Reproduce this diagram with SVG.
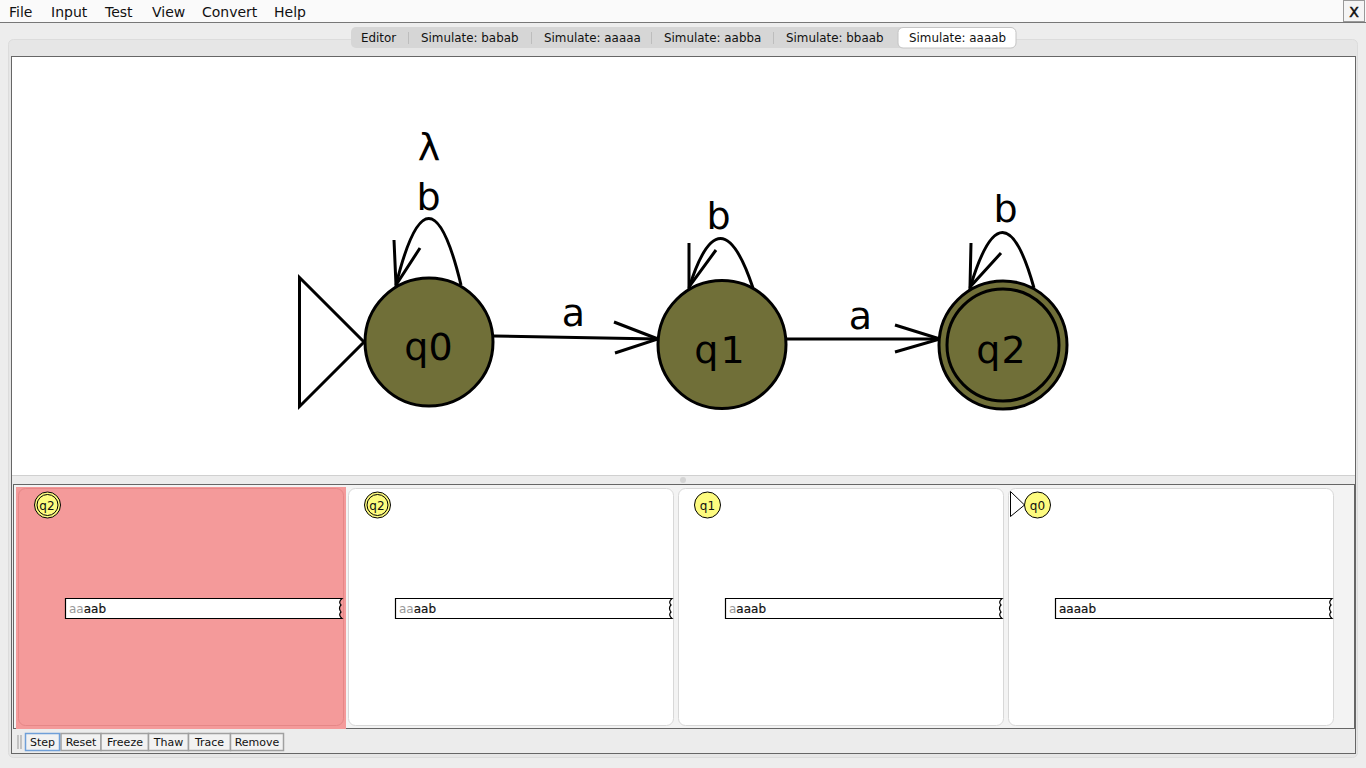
<svg xmlns="http://www.w3.org/2000/svg" width="1366" height="768" viewBox="0 0 1366 768">
<style>
text{font-family:"DejaVu Sans","Liberation Sans",sans-serif;fill:#111}
.menu{font-size:14px}
.tab{font-size:11.9px}
.btn rect{fill:#f2f2f2;stroke:#a0a0a0;stroke-width:1.5}
.btn text{font-size:11px;text-anchor:middle}
.st{fill:#706f38;stroke:#000;stroke-width:3}
.big{font-size:38px;text-anchor:middle;fill:#000}
.line{fill:none;stroke:#000;stroke-width:3}
.card{fill:#fff;stroke:#d8d8d8;stroke-width:1}
.tape{fill:#fff;stroke:#000;stroke-width:1.2}
.tt{font-size:12px;stroke:#111;stroke-width:.2}
.used{fill:#999;stroke:none}
.mini{fill:#fdfb7f;stroke:#000;stroke-width:1}
.mt{font-size:12px;text-anchor:middle}
.sep{stroke:#bdbdbd;stroke-width:1}
</style>
<rect width="1366" height="768" fill="#ededed"/>
<g id="menubar">
<rect width="1366" height="22" fill="#fafafa"/>
<line x1="0" y1="22.5" x2="1366" y2="22.5" stroke="#777" stroke-width="1"/>
<text class="menu" x="9" y="17">File</text>
<text class="menu" x="51" y="17">Input</text>
<text class="menu" x="105" y="17">Test</text>
<text class="menu" x="152" y="17">View</text>
<text class="menu" x="202" y="17">Convert</text>
<text class="menu" x="274" y="17">Help</text>
<rect x="1343.5" y="0.5" width="21" height="21" fill="#f5f5f5" stroke="#999"/>
<text x="1354" y="17" font-size="14" text-anchor="middle" font-family="Liberation Sans" stroke="#111" stroke-width=".5">X</text>
</g>
<g id="tabs">
<rect x="8.5" y="39.5" width="1349" height="718" rx="5" fill="#e6e6e6" stroke="#dcdcdc"/>
<rect x="351" y="27" width="664" height="21" rx="5" fill="#d6d6d6"/>
<rect x="898" y="27.5" width="118" height="20.5" rx="5" fill="#fff" stroke="#c4c4c4"/>
<text class="tab" x="361" y="42">Editor</text>
<line class="sep" x1="408.500" y1="32" x2="408.500" y2="44"/>
<text class="tab" x="421" y="42">Simulate: babab</text>
<line class="sep" x1="531.500" y1="32" x2="531.500" y2="44"/>
<text class="tab" x="544" y="42">Simulate: aaaaa</text>
<line class="sep" x1="651.500" y1="32" x2="651.500" y2="44"/>
<text class="tab" x="664" y="42">Simulate: aabba</text>
<line class="sep" x1="773.500" y1="32" x2="773.500" y2="44"/>
<text class="tab" x="786" y="42">Simulate: bbaab</text>
<text class="tab" x="909" y="42">Simulate: aaaab</text>
</g>
<rect x="11.500" y="56.500" width="1344" height="697" fill="#ececec" stroke="#666"/>
<rect x="12" y="57" width="1343" height="419" fill="#fff"/>
<line x1="12" y1="475.500" x2="1355" y2="475.500" stroke="#d0d0d0"/>
<circle cx="683" cy="480" r="3" fill="#d4d4d4"/>
<rect x="13.500" y="484.500" width="1341" height="244" fill="#f3f3f3" stroke="#666"/>
<g id="connectors">
<path class="line" d="M461 285Q429 152 396 285"/>
<path class="line" d="M394 240L396 285L420 248"/>
<path class="line" d="M753 288Q720 189 689 288"/>
<path class="line" d="M689 243L689 287L716 250"/>
<path class="line" d="M1034 288Q1003 177 970 288"/>
<path class="line" d="M971 243L970 287L1001 253"/>
<path class="line" d="M494 336L658 339"/>
<path class="line" d="M614 322L658 339L615 353"/>
<path class="line" d="M787 339L940 339"/>
<path class="line" d="M895 325L940 339L895 352"/>
<text class="big" x="573.500" y="326">a</text>
<text class="big" x="860.500" y="329">a</text>
<text class="big" x="428.500" y="210">b</text>
<text class="big" x="429" y="160">λ</text>
<text class="big" x="718.500" y="229">b</text>
<text class="big" x="1005.500" y="222">b</text>
</g>
<g id="q0">
<path class="line" d="M299.500 277.500L364 342L299.500 406.500Z"/>
<circle class="st" cx="429" cy="342" r="64"/>
<text class="big" x="428.500" y="360">q0</text>
</g>
<g id="q1">
<circle class="st" cx="722" cy="344.500" r="64"/>
<text class="big" x="720.500" y="363" letter-spacing="2">q1</text>
</g>
<g id="q2">
<circle class="st" cx="1003" cy="345" r="64"/>
<circle class="st" cx="1003" cy="345" r="56"/>
<text class="big" x="1001.500" y="363" letter-spacing="1">q2</text>
</g>
<g id="config1">
<rect x="16" y="487" width="330" height="242" fill="#f49a9a"/>
<rect x="18.500" y="488.500" width="325" height="237" rx="7" fill="#f49a9a" stroke="#e58787"/>
<circle class="mini" cx="47.500" cy="505" r="13"/>
<circle class="mini" cx="47.500" cy="505" r="10.500"/>
<text class="mt" x="47" y="509.500">q2</text>
<path class="tape" d="M65.500 598.500H342Q338 602 341 605Q338 608 341 612Q338 615 342 618.500H65.500Z"/>
<text class="tt" x="69" y="613"><tspan class="used">aa</tspan>aab</text>
</g>
<g id="config2">
<rect class="card" x="348.500" y="488.500" width="325" height="237" rx="7"/>
<circle class="mini" cx="377.500" cy="505" r="13"/>
<circle class="mini" cx="377.500" cy="505" r="10.500"/>
<text class="mt" x="377" y="509.500">q2</text>
<path class="tape" d="M395.500 598.500H672Q668 602 671 605Q668 608 671 612Q668 615 672 618.500H395.500Z"/>
<text class="tt" x="399" y="613"><tspan class="used">aa</tspan>aab</text>
</g>
<g id="config3">
<rect class="card" x="678.500" y="488.500" width="325" height="237" rx="7"/>
<circle class="mini" cx="707.500" cy="505" r="13"/>
<text class="mt" x="707.500" y="509.500">q1</text>
<path class="tape" d="M725.500 598.500H1002Q998 602 1001 605Q998 608 1001 612Q998 615 1002 618.500H725.500Z"/>
<text class="tt" x="729" y="613"><tspan class="used">a</tspan>aaab</text>
</g>
<g id="config4">
<rect class="card" x="1008.500" y="488.500" width="325" height="237" rx="7"/>
<path d="M1010.500 491.500L1024.500 505L1010.500 516.500Z" fill="#fff" stroke="#000"/>
<circle class="mini" cx="1037.500" cy="505" r="13"/>
<text class="mt" x="1037.500" y="509.500">q0</text>
<path class="tape" d="M1055.500 598.500H1332Q1328 602 1331 605Q1328 608 1331 612Q1328 615 1332 618.500H1055.500Z"/>
<text class="tt" x="1059" y="613">aaaab</text>
</g>
<g id="toolbar" class="btn">
<path d="M18 735V749M21 735V749" stroke="#999" fill="none"/>
<rect x="61" y="733.500" width="40" height="17"/><text x="81" y="746">Reset</text>
<rect x="101" y="733.500" width="47.500" height="17"/><text x="125" y="746">Freeze</text>
<rect x="148.500" y="733.500" width="40" height="17"/><text x="168.500" y="746">Thaw</text>
<rect x="188.500" y="733.500" width="42" height="17"/><text x="209.500" y="746">Trace</text>
<rect x="230.500" y="733.500" width="53" height="17"/><text x="257" y="746">Remove</text>
<rect x="25.500" y="733.500" width="34" height="17" style="stroke:#6f9fd8"/><text x="42.500" y="746">Step</text>
</g>
</svg>
